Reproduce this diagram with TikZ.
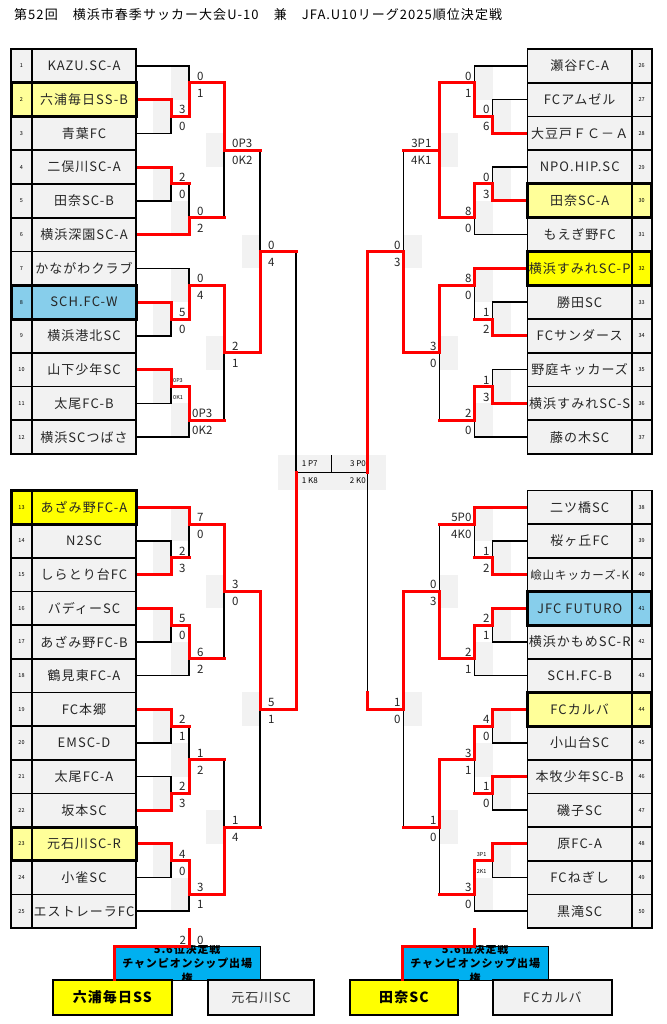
\documentclass[tikz,border=0pt]{standalone}
\usepackage{fontspec}
\setmainfont{Noto Sans CJK JP}
\newfontfamily\jpls{Noto Sans CJK JP}[LetterSpace=8]
\pgfdeclarelayer{bg}
\pgfdeclarelayer{fg}
\pgfdeclarelayer{top}
\pgfsetlayers{bg,main,fg,top}
\definecolor{cg}{RGB}{242,242,242}
\definecolor{ly}{RGB}{255,255,153}
\definecolor{yb}{RGB}{255,255,0}
\definecolor{sky}{RGB}{135,206,235}
\definecolor{cyanb}{RGB}{0,176,240}
\definecolor{gbg}{RGB}{242,242,242}
\newcount\labcnt
\def\xLT{136}\def\xLA{171}\def\xLB{189}\def\xLC{224}\def\xLD{260}\def\xLE{296}
\def\xRT{527.6}\def\xRA{492.6}\def\xRB{474.6}\def\xRC{439.6}\def\xRD{403.6}\def\xRE{367.6}
\def\Y{49}\def\U{16.875}
\newcommand\bH[3]{\draw[blk] ({#2},{\Y+(#1)*\U}) -- ({#3},{\Y+(#1)*\U});}
\newcommand\rH[3]{\begin{pgfonlayer}{fg}\draw[redl] ({#2},{\Y+(#1)*\U}) -- ({#3},{\Y+(#1)*\U});\end{pgfonlayer}}
\newcommand\bV[3]{\draw[blk] ({#1},{\Y+(#2)*\U}) -- ({#1},{\Y+(#3)*\U});}
\newcommand\rV[3]{\begin{pgfonlayer}{fg}\draw[redl] ({#1},{\Y+(#2)*\U}) -- ({#1},{\Y+(#3)*\U});\end{pgfonlayer}}
% vx kt kb ko winner(0 top,1 bottom,2 both) dx labeltop labelbottom
\newcommand\MatchL[8]{%
  \begin{pgfonlayer}{bg}\fill[gbg] ({#1-18},{\Y+(#4-1)*\U}) rectangle ({#1},{\Y+(#4+1)*\U});\end{pgfonlayer}%
  \ifcase#5\relax \rV{#1}{#2}{#4}\bV{#1}{#4}{#3}\or \bV{#1}{#2}{#4}\rV{#1}{#4}{#3}\else \rV{#1}{#2}{#3}\fi
  \global\advance\labcnt by 1
  \node[sc,anchor=base west] (a\the\labcnt) at ({#1+#6},{\Y+(#4)*\U-2.5}) {#7};
  \node[sc,anchor=base west] (b\the\labcnt) at ({#1+#6},{\Y+(#4)*\U+14.5}) {#8};}
\newcommand\MatchR[8]{%
  \begin{pgfonlayer}{bg}\fill[gbg] ({#1},{\Y+(#4-1)*\U}) rectangle ({#1+18},{\Y+(#4+1)*\U});\end{pgfonlayer}%
  \ifcase#5\relax \rV{#1}{#2}{#4}\bV{#1}{#4}{#3}\or \bV{#1}{#2}{#4}\rV{#1}{#4}{#3}\else \rV{#1}{#2}{#3}\fi
  \global\advance\labcnt by 1
  \node[sc,anchor=base east] (a\the\labcnt) at ({#1-#6},{\Y+(#4)*\U-2.5}) {#7};
  \node[sc,anchor=base east] (b\the\labcnt) at ({#1-#6},{\Y+(#4)*\U+14.5}) {#8};}
% ytop h num name fill
\newcommand\Lrow[5]{%
  \begin{pgfonlayer}{top}
  \filldraw[cell,fill=#5] (11,{#1}) rectangle (32,{#1+#2});
  \filldraw[cell,fill=#5] (32,{#1}) rectangle (136,{#1+#2});
  \node[numt] (n#3) at (21.5,{#1+#2/2}) {#3};
  \begin{scope}
  \clip (32,{#1}) rectangle (136,{#1+#2});
  \node[namet] (t#3) at (84,{#1+#2/2}) {#4};
  \end{scope}
  \end{pgfonlayer}}
\newcommand\Rrow[5]{%
  \begin{pgfonlayer}{top}
  \filldraw[cell,fill=#5] (527.6,{#1}) rectangle (631.7,{#1+#2});
  \filldraw[cell,fill=#5] (631.7,{#1}) rectangle (651.7,{#1+#2});
  \node[numt] (n#3) at (641.7,{#1+#2/2}) {#3};
  \begin{scope}
  \clip (527.6,{#1}) rectangle (631.7,{#1+#2});
  \node[namet] (t#3) at (579.65,{#1+#2/2}) {#4};
  \end{scope}
  \end{pgfonlayer}}
\begin{document}
\begin{tikzpicture}[x=1pt,y=-1pt,
  blk/.style={black,line width=1.6pt,line cap=rect},
  redl/.style={red,line width=3pt,line cap=rect,line join=miter},
  sc/.style={inner sep=0pt,text=black!85,font=\fontsize{11.5}{12}\selectfont},
  tinyl/.style={inner sep=0pt,text=black,font=\fontsize{5.5}{6}\selectfont},
  ctrl/.style={inner sep=0pt,text=black,font=\fontsize{8}{9}\selectfont},
  cell/.style={draw=black,line width=1.6pt},
  namet/.style={inner sep=0pt,text=black!85,font=\jpls\fontsize{13}{14}\selectfont},
  numt/.style={inner sep=0pt,text=black,font=\fontsize{5.5}{6}\selectfont},
  hlb/.style={draw=black,line width=3pt},
  bbox/.style={draw=black,line width=2pt,inner sep=0pt,anchor=north west,minimum height=34.7pt}]
\useasboundingbox (0,0) rectangle (666,1024);
\begin{pgfonlayer}{bg}\fill[white] (0,0) rectangle (666,1024);\end{pgfonlayer}

\node[anchor=base west,inner sep=0pt,font=\jpls\fontsize{13}{14}\selectfont] (title) at (14,19.5) {第52回　横浜市春季サッカー大会U-10　兼　JFA.U10リーグ2025順位決定戦};

% ---------------- top left ----------------
\def\Y{49}\def\U{16.875}
\bH{1}{\xLT}{\xLB}
\rH{3}{\xLT}{\xLA}
\bH{5}{\xLT}{\xLA}
\MatchL{\xLA}{3}{5}{4}{0}{8}{3}{0} \rH{4}{\xLA}{\xLB}
\MatchL{\xLB}{1}{4}{2}{1}{8}{0}{1} \rH{2}{\xLB}{\xLC}
\rH{7}{\xLT}{\xLA}
\bH{9}{\xLT}{\xLA}
\MatchL{\xLA}{7}{9}{8}{0}{8}{2}{0} \rH{8}{\xLA}{\xLB}
\rH{11}{\xLT}{\xLB}
\MatchL{\xLB}{8}{11}{10}{1}{8}{0}{2} \rH{10}{\xLB}{\xLC}
\MatchL{\xLC}{2}{10}{6}{0}{8}{0P3}{0K2} \rH{6}{\xLC}{\xLD}
\bH{13}{\xLT}{\xLB}
\rH{15}{\xLT}{\xLA}
\bH{17}{\xLT}{\xLA}
\MatchL{\xLA}{15}{17}{16}{0}{8}{5}{0} \rH{16}{\xLA}{\xLB}
\MatchL{\xLB}{13}{16}{14}{1}{8}{0}{4} \rH{14}{\xLB}{\xLC}
\rH{19}{\xLT}{\xLA}
\bH{21}{\xLT}{\xLA}
\MatchL{\xLA}{19}{21}{20}{0}{8}{}{} \rH{20}{\xLA}{\xLB}
\node[tinyl,anchor=base west] (tp1) at ({\xLA+2},{\Y+20*\U-4}) {0P3};
\node[tinyl,anchor=base west] (tk1) at ({\xLA+2},{\Y+20*\U+12.8}) {0K1};
\bH{23}{\xLT}{\xLB}
\MatchL{\xLB}{20}{23}{22}{0}{3}{0P3}{0K2} \rH{22}{\xLB}{\xLC}
\MatchL{\xLC}{14}{22}{18}{0}{8}{2}{1} \rH{18}{\xLC}{\xLD}
\MatchL{\xLD}{6}{18}{12}{1}{8}{0}{4} \rH{12}{\xLD}{\xLE}
\draw[blk] (\xLE,{\Y+12*\U}) -- (\xLE,472.3);

% ---------------- top right ----------------
\bH{1}{\xRT}{\xRB}
\bH{3}{\xRT}{\xRA}
\rH{5}{\xRT}{\xRA}
\MatchR{\xRA}{3}{5}{4}{1}{3}{0}{6} \rH{4}{\xRA}{\xRB}
\MatchR{\xRB}{1}{4}{2}{1}{3}{0}{1} \rH{2}{\xRB}{\xRC}
\bH{7}{\xRT}{\xRA}
\rH{9}{\xRT}{\xRA}
\MatchR{\xRA}{7}{9}{8}{1}{3}{0}{3} \rH{8}{\xRA}{\xRB}
\bH{11}{\xRT}{\xRB}
\MatchR{\xRB}{8}{11}{10}{0}{3}{8}{0} \rH{10}{\xRB}{\xRC}
\MatchR{\xRC}{2}{10}{6}{2}{8}{3P1}{4K1} \rH{6}{\xRC}{\xRD}
\rH{13}{\xRT}{\xRB}
\bH{15}{\xRT}{\xRA}
\rH{17}{\xRT}{\xRA}
\MatchR{\xRA}{15}{17}{16}{1}{3}{1}{2} \rH{16}{\xRA}{\xRB}
\MatchR{\xRB}{13}{16}{14}{0}{3}{8}{0} \rH{14}{\xRB}{\xRC}
\bH{19}{\xRT}{\xRA}
\rH{21}{\xRT}{\xRA}
\MatchR{\xRA}{19}{21}{20}{1}{3}{1}{3} \rH{20}{\xRA}{\xRB}
\bH{23}{\xRT}{\xRB}
\MatchR{\xRB}{20}{23}{22}{0}{3}{2}{0} \rH{22}{\xRB}{\xRC}
\MatchR{\xRC}{14}{22}{18}{0}{3}{3}{0} \rH{18}{\xRC}{\xRD}
\MatchR{\xRD}{6}{18}{12}{1}{3}{0}{3} \rH{12}{\xRD}{\xRE}
\begin{pgfonlayer}{fg}\draw[redl] (\xRE,{\Y+12*\U}) -- (\xRE,472.3);\end{pgfonlayer}

% ---------------- bottom left ----------------
\def\Y{490.5}\def\U{16.83}
\rH{1}{\xLT}{\xLB}
\bH{3}{\xLT}{\xLA}
\rH{5}{\xLT}{\xLA}
\MatchL{\xLA}{3}{5}{4}{1}{8}{2}{3} \rH{4}{\xLA}{\xLB}
\MatchL{\xLB}{1}{4}{2}{0}{8}{7}{0} \rH{2}{\xLB}{\xLC}
\rH{7}{\xLT}{\xLA}
\bH{9}{\xLT}{\xLA}
\MatchL{\xLA}{7}{9}{8}{0}{8}{5}{0} \rH{8}{\xLA}{\xLB}
\bH{11}{\xLT}{\xLB}
\MatchL{\xLB}{8}{11}{10}{0}{8}{6}{2} \rH{10}{\xLB}{\xLC}
\MatchL{\xLC}{2}{10}{6}{0}{8}{3}{0} \rH{6}{\xLC}{\xLD}
\rH{13}{\xLT}{\xLA}
\bH{15}{\xLT}{\xLA}
\MatchL{\xLA}{13}{15}{14}{0}{8}{2}{1} \rH{14}{\xLA}{\xLB}
\bH{17}{\xLT}{\xLA}
\rH{19}{\xLT}{\xLA}
\MatchL{\xLA}{17}{19}{18}{1}{8}{2}{3} \rH{18}{\xLA}{\xLB}
\MatchL{\xLB}{14}{18}{16}{1}{8}{1}{2} \rH{16}{\xLB}{\xLC}
\rH{21}{\xLT}{\xLA}
\bH{23}{\xLT}{\xLA}
\MatchL{\xLA}{21}{23}{22}{0}{8}{4}{0} \rH{22}{\xLA}{\xLB}
\bH{25}{\xLT}{\xLB}
\MatchL{\xLB}{22}{25}{24}{0}{8}{3}{1} \rH{24}{\xLB}{\xLC}
\MatchL{\xLC}{16}{24}{20}{1}{8}{1}{4} \rH{20}{\xLC}{\xLD}
\MatchL{\xLD}{6}{20}{13}{0}{8}{5}{1} \rH{13}{\xLD}{\xLE}
\begin{pgfonlayer}{fg}\draw[redl] (\xLE,472.3) -- (\xLE,{\Y+13*\U});\end{pgfonlayer}

% ---------------- bottom right ----------------
\rH{1}{\xRT}{\xRB}
\bH{3}{\xRT}{\xRA}
\rH{5}{\xRT}{\xRA}
\MatchR{\xRA}{3}{5}{4}{1}{3}{1}{2} \rH{4}{\xRA}{\xRB}
\MatchR{\xRB}{1}{4}{2}{0}{3}{5P0}{4K0} \rH{2}{\xRB}{\xRC}
\rH{7}{\xRT}{\xRA}
\bH{9}{\xRT}{\xRA}
\MatchR{\xRA}{7}{9}{8}{0}{3}{2}{1} \rH{8}{\xRA}{\xRB}
\bH{11}{\xRT}{\xRB}
\MatchR{\xRB}{8}{11}{10}{0}{3}{2}{1} \rH{10}{\xRB}{\xRC}
\MatchR{\xRC}{2}{10}{6}{1}{3}{0}{3} \rH{6}{\xRC}{\xRD}
\rH{13}{\xRT}{\xRA}
\bH{15}{\xRT}{\xRA}
\MatchR{\xRA}{13}{15}{14}{0}{3}{4}{0} \rH{14}{\xRA}{\xRB}
\rH{17}{\xRT}{\xRA}
\bH{19}{\xRT}{\xRA}
\MatchR{\xRA}{17}{19}{18}{0}{3}{1}{0} \rH{18}{\xRA}{\xRB}
\MatchR{\xRB}{14}{18}{16}{0}{3}{3}{1} \rH{16}{\xRB}{\xRC}
\rH{21}{\xRT}{\xRA}
\bH{23}{\xRT}{\xRA}
\MatchR{\xRA}{21}{23}{22}{0}{3}{}{} \rH{22}{\xRA}{\xRB}
\node[tinyl,anchor=base east] (tp2) at ({\xRA-6},{\Y+22*\U-4}) {3P1};
\node[tinyl,anchor=base east] (tk2) at ({\xRA-6},{\Y+22*\U+13}) {2K1};
\bH{25}{\xRT}{\xRB}
\MatchR{\xRB}{22}{25}{24}{0}{3}{3}{0} \rH{24}{\xRB}{\xRC}
\MatchR{\xRC}{16}{24}{20}{0}{3}{1}{0} \rH{20}{\xRC}{\xRD}
\MatchR{\xRD}{6}{20}{13}{0}{3}{1}{0} \rH{13}{\xRD}{\xRE}
\draw[blk] (\xRE,472.3) -- (\xRE,{\Y+13*\U});
\begin{pgfonlayer}{fg}\draw[redl] (\xRE,{\Y+12*\U}) -- (\xRE,{\Y+13*\U});\end{pgfonlayer}

% ---------------- centre ----------------
\begin{pgfonlayer}{bg}\fill[gbg] (277.7,455) rectangle (385.7,490.3);\end{pgfonlayer}
\draw[blk] (\xLE,472.3) -- (\xRE,472.3);
\draw[blk] (331.6,456) -- (331.6,472.3);
\node[ctrl,anchor=base west] (c1) at (301.7,466.7) {1 P7};
\node[ctrl,anchor=base west] (c2) at (301.7,483.3) {1 K8};
\node[ctrl,anchor=base east] (c3) at (366,466.7) {3 P0};
\node[ctrl,anchor=base east] (c4) at (366,483.3) {2 K0};

% ---------------- tables ----------------
\foreach \i/\nm/\fc in {1/KAZU.SC-A/cg,2/六浦毎日SS-B/ly,3/青葉FC/cg,4/二俣川SC-A/cg,5/田奈SC-B/cg,6/横浜深園SC-A/cg,7/かながわクラブ/cg,8/SCH.FC-W/sky,9/横浜港北SC/cg,10/山下少年SC/cg,11/太尾FC-B/cg,12/横浜SCつばさ/cg}
  {\Lrow{49+(\i-1)*33.75}{33.75}{\i}{\nm}{\fc}}
\foreach \i/\nm/\fc in {13/あざみ野FC-A/yb,14/N2SC/cg,15/しらとり台FC/cg,16/バディーSC/cg,17/あざみ野FC-B/cg,18/鶴見東FC-A/cg,19/FC本郷/cg,20/EMSC-D/cg,21/太尾FC-A/cg,22/坂本SC/cg,23/元石川SC-R/ly,24/小雀SC/cg,25/エストレーラFC/cg}
  {\Lrow{490.5+(\i-13)*33.66}{33.66}{\i}{\nm}{\fc}}
\foreach \i/\nm/\fc in {26/瀬谷FC-A/cg,27/FCアムゼル/cg,28/大豆戸ＦＣ－Ａ/cg,29/NPO.HIP.SC/cg,30/田奈SC-A/ly,31/もえぎ野FC/cg,32/横浜すみれSC-P/yb,33/勝田SC/cg,34/FCサンダース/cg,35/野庭キッカーズ/cg,36/横浜すみれSC-S/cg,37/藤の木SC/cg}
  {\Rrow{49+(\i-26)*33.75}{33.75}{\i}{\nm}{\fc}}
\foreach \i/\nm/\fc in {38/二ツ橋SC/cg,39/桜ヶ丘FC/cg,40/{\fontsize{11.5}{12}\selectfont 嶮山キッカーズ-K}/cg,41/JFC FUTURO/sky,42/横浜かもめSC-R/cg,43/SCH.FC-B/cg,44/FCカルバ/ly,45/小山台SC/cg,46/本牧少年SC-B/cg,47/磯子SC/cg,48/原FC-A/cg,49/FCねぎし/cg,50/黒滝SC/cg}
  {\Rrow{490.5+(\i-38)*33.66}{33.66}{\i}{\nm}{\fc}}
\begin{pgfonlayer}{top}
\draw[hlb] (11,{49+1*33.75}) rectangle (136,{49+2*33.75});
\draw[hlb] (11,{49+7*33.75}) rectangle (136,{49+8*33.75});
\draw[hlb] (11,490.5) rectangle (136,{490.5+33.66});
\draw[hlb] (11,{490.5+10*33.66}) rectangle (136,{490.5+11*33.66});
\draw[hlb] (527.6,{49+4*33.75}) rectangle (651.7,{49+5*33.75});
\draw[hlb] (527.6,{49+6*33.75}) rectangle (651.7,{49+7*33.75});
\draw[hlb] (527.6,{490.5+3*33.66}) rectangle (651.7,{490.5+4*33.66});
\draw[hlb] (527.6,{490.5+6*33.66}) rectangle (651.7,{490.5+7*33.66});
\end{pgfonlayer}

% ---------------- bottom boxes ----------------
\node[sc,anchor=base west] (f1) at (179.5,944) {2};
\node[sc,anchor=base west] (f2) at (197,944) {0};
\node[fill=cyanb,draw=black,line width=0.8pt,inner sep=0pt,anchor=north west,minimum width=145.7pt,minimum height=34.3pt] (bL) at (114.3,945.7) {};
\node[fill=cyanb,draw=black,line width=0.8pt,inner sep=0pt,anchor=north west,minimum width=145.7pt,minimum height=34.3pt] (bR) at (402.3,945.7) {};
\begin{scope}
\clip (114.3,945.7) rectangle (260,980);
\node[inner sep=0pt,align=center,font=\jpls\bfseries\fontsize{11}{14.5}\selectfont] (bLt) at (187.2,963.5) {5.6位決定戦\\チャンピオンシップ出場\\権};
\end{scope}
\begin{scope}
\clip (402.3,945.7) rectangle (548,980);
\node[inner sep=0pt,align=center,font=\jpls\bfseries\fontsize{11}{14.5}\selectfont] (bRt) at (475.2,963.5) {5.6位決定戦\\チャンピオンシップ出場\\権};
\end{scope}
\begin{pgfonlayer}{fg}
\coordinate (sL) at (\xLB,929);
\coordinate (sR) at (\xRB,929);
\draw[redl] (sL) -- (\xLB,946) -- (114.3,946) -- (114.3,979);
\draw[redl] (sR) -- (\xRB,946) -- (402.3,946) -- (402.3,979);
\end{pgfonlayer}
\node[bbox,fill=yb,minimum width=119.3pt,font=\jpls\bfseries\fontsize{14}{15}\selectfont] (wL) at (51.7,979.3) {六浦毎日SS};
\node[bbox,fill=cg,minimum width=106.6pt,text=black!80,font=\jpls\fontsize{13}{14}\selectfont] (gL) at (206.7,979.3) {元石川SC};
\node[bbox,fill=yb,minimum width=108pt,font=\jpls\bfseries\fontsize{14}{15}\selectfont] (wR) at (349,979.3) {田奈SC};
\node[bbox,fill=cg,minimum width=118.7pt,text=black!80,font=\jpls\fontsize{13}{14}\selectfont] (gR) at (492,979.3) {FCカルバ};
\end{tikzpicture}
\end{document}
